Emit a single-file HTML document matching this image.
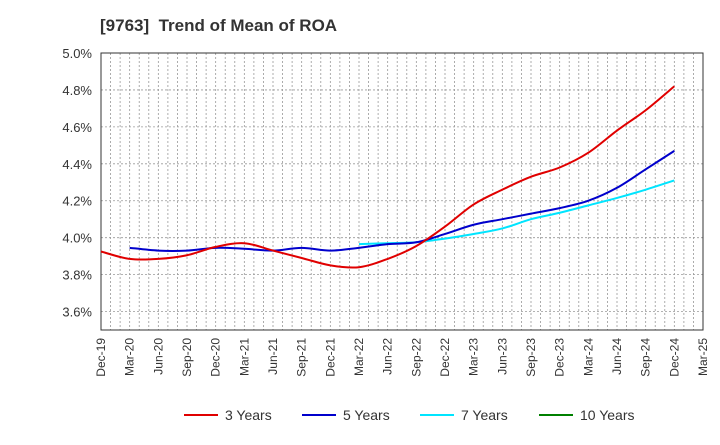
<!DOCTYPE html>
<html><head><meta charset="utf-8"><style>
body{margin:0;background:#fff;font-family:"Liberation Sans",sans-serif;}
</style></head><body>
<svg width="720" height="440" xmlns="http://www.w3.org/2000/svg">
<text x="100" y="31" font-size="17" font-weight="bold" fill="#333" xml:space="preserve">[9763]  Trend of Mean of ROA</text>
<g id="grid"></g><g id="axes"></g><g id="series"></g><g id="legend"></g>
</svg>
<script>
const categories=["Dec-19","Mar-20","Jun-20","Sep-20","Dec-20","Mar-21","Jun-21","Sep-21","Dec-21","Mar-22","Jun-22","Sep-22","Dec-22","Mar-23","Jun-23","Sep-23","Dec-23","Mar-24","Jun-24","Sep-24","Dec-24","Mar-25"];
const yTicks=[3.6,3.8,4.0,4.2,4.4,4.6,4.8,5.0];
const s3=[3.925,3.885,3.885,3.905,3.95,3.97,3.93,3.89,3.85,3.84,3.885,3.955,4.06,4.18,4.26,4.33,4.38,4.46,4.58,4.69,4.82];
const s5=[null,3.945,3.93,3.93,3.945,3.94,3.93,3.945,3.93,3.945,3.965,3.975,4.02,4.07,4.10,4.13,4.16,4.20,4.27,4.37,4.47];
const s7=[null,null,null,null,null,null,null,null,null,3.965,3.97,3.975,3.995,4.02,4.05,4.10,4.135,4.175,4.215,4.26,4.31];
const s10=[];
const NS="http://www.w3.org/2000/svg";
const L=101,R=703,T=53,B=330,yMin=3.5,yMax=5.0;
const x=i=>L+(R-L)*i/(categories.length-1);
const y=v=>B-(B-T)*(v-yMin)/(yMax-yMin);
function mk(tag,attrs,parent){const e=document.createElementNS(NS,tag);for(const k in attrs)e.setAttribute(k,attrs[k]);parent.appendChild(e);return e;}
const grid=document.getElementById('grid'),axes=document.getElementById('axes'),ser=document.getElementById('series'),leg=document.getElementById('legend');
for(let m=1;m<(categories.length-1)*3;m++){const xx=L+(R-L)*m/((categories.length-1)*3);
const g=mk('line',{x1:xx,x2:xx,y1:T,y2:B,stroke:'#999','stroke-dasharray':'2,2','stroke-width':0.8},grid);

}
yTicks.forEach(v=>{const g=mk('line',{x1:L,x2:R,y1:y(v),y2:y(v),stroke:'#999','stroke-dasharray':'2,2','stroke-width':0.8},grid);


const t=mk('text',{x:L-9,y:y(v)+5,'text-anchor':'end','font-size':13,fill:'#333'},axes);t.textContent=v.toFixed(1)+'%';

});
const fr=mk('rect',{x:L,y:T,width:R-L,height:B-T,fill:'none',stroke:'#333','stroke-width':1},axes);


categories.forEach((c,i)=>{const t=mk('text',{transform:`translate(${x(i)+4},${B+8}) rotate(-90)`,'text-anchor':'end','font-size':12,fill:'#333'},axes);t.textContent=c;

});
function path(arr){const pts=[];arr.forEach((v,i)=>{if(v!=null)pts.push([x(i),y(v)]);});if(pts.length<2)return '';
let d=`M${pts[0][0]},${pts[0][1]}`;for(let i=0;i<pts.length-1;i++){const p0=pts[i-1]||pts[i],p1=pts[i],p2=pts[i+1],p3=pts[i+2]||p2;
d+=` C${p1[0]+(p2[0]-p0[0])/6},${p1[1]+(p2[1]-p0[1])/6} ${p2[0]-(p3[0]-p1[0])/6},${p2[1]-(p3[1]-p1[1])/6} ${p2[0]},${p2[1]}`;}return d;}
const series=[[s3,'#e00000','3 Years','line-3-years'],[s5,'#0000cc','5 Years','line-5-years'],[s7,'#00e5ff','7 Years','line-7-years'],[s10,'#008000','10 Years','line-10-years']];
series.slice().reverse().forEach(s=>{const d=path(s[0]);if(d){const p=mk('path',{d:d,fill:'none',stroke:s[1],'stroke-width':2},ser);

}});
const lx=[184,302,420,539];
series.forEach((s,i)=>{const g=mk('g',{},leg);


mk('line',{x1:lx[i],x2:lx[i]+34,y1:415,y2:415,stroke:s[1],'stroke-width':2},g);
const t=mk('text',{x:lx[i]+41,y:420,'font-size':14,fill:'#333'},g);t.textContent=s[2];});
</script>
</body></html>
